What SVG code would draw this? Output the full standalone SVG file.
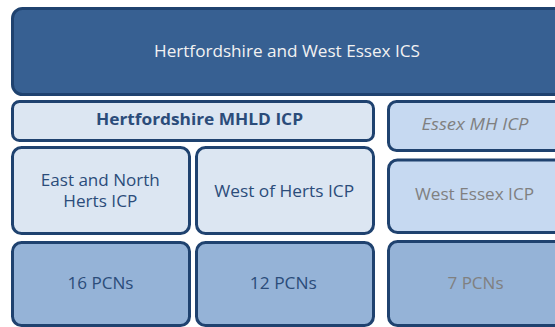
<svg xmlns="http://www.w3.org/2000/svg" width="555" height="327" viewBox="0 0 555 327">
  <style>
    .box { stroke: #1f426f; stroke-width: 3; }
    .ics { fill: #376092; }
    .herts { fill: #dce6f2; }
    .essex { fill: #c6d9f1; }
    .pcn { fill: #95b3d7; }
    text { font-family: "Open Sans", "Liberation Sans", sans-serif; font-size: 16px; text-anchor: middle; }
    .light { fill: #f2f2f2; }
    .dark { fill: #2b4c7a; }
    .grey { fill: #808080; }
  </style>
  <rect width="555" height="327" fill="#ffffff"/>

  <!-- Top level system -->
  <g id="ics">
    <rect class="box ics" x="12.5" y="8.5" width="580" height="86" rx="10"/>
    <text class="light" x="287" y="56.5" textLength="266" lengthAdjust="spacingAndGlyphs">Hertfordshire and West Essex ICS</text>
  </g>

  <!-- Partnership level -->
  <g id="herts-mhld">
    <rect class="box herts" x="12.5" y="101.5" width="361" height="39" rx="7"/>
    <text class="dark" x="199.5" y="125" font-weight="bold" textLength="207" lengthAdjust="spacingAndGlyphs">Hertfordshire MHLD ICP</text>
  </g>
  <g id="essex-mh">
    <rect class="box essex" x="388.5" y="101.5" width="200" height="49" rx="8"/>
    <text class="grey" x="475" y="130" font-style="italic" textLength="107" lengthAdjust="spacingAndGlyphs">Essex MH ICP</text>
  </g>

  <!-- Place level -->
  <g id="east-north-herts">
    <rect class="box herts" x="12.5" y="147.5" width="177" height="86" rx="9"/>
    <text class="dark" x="100.3" y="185.7" textLength="119" lengthAdjust="spacingAndGlyphs">East and North</text>
    <text class="dark" x="100.3" y="207.3" textLength="74" lengthAdjust="spacingAndGlyphs">Herts ICP</text>
  </g>
  <g id="west-herts">
    <rect class="box herts" x="196.5" y="147.5" width="177" height="86" rx="9"/>
    <text class="dark" x="284.2" y="196.7" textLength="140" lengthAdjust="spacingAndGlyphs">West of Herts ICP</text>
  </g>
  <g id="west-essex">
    <rect class="box essex" x="388.5" y="160" width="200" height="72.5" rx="9"/>
    <text class="grey" x="474.5" y="200" textLength="119" lengthAdjust="spacingAndGlyphs">West Essex ICP</text>
  </g>

  <!-- Primary care networks -->
  <g id="pcn-east-north">
    <rect class="box pcn" x="12.5" y="242.5" width="177" height="83" rx="9"/>
    <text class="dark" x="100.5" y="289.3" textLength="66" lengthAdjust="spacingAndGlyphs">16 PCNs</text>
  </g>
  <g id="pcn-west-herts">
    <rect class="box pcn" x="196.5" y="242.5" width="177" height="83" rx="9"/>
    <text class="dark" x="283.3" y="289.3" textLength="67" lengthAdjust="spacingAndGlyphs">12 PCNs</text>
  </g>
  <g id="pcn-west-essex">
    <rect class="box pcn" x="388.5" y="241.5" width="200" height="84" rx="9"/>
    <text class="grey" x="475.5" y="288.5" textLength="56" lengthAdjust="spacingAndGlyphs">7 PCNs</text>
  </g>

  <g id="connectors"/>
</svg>
